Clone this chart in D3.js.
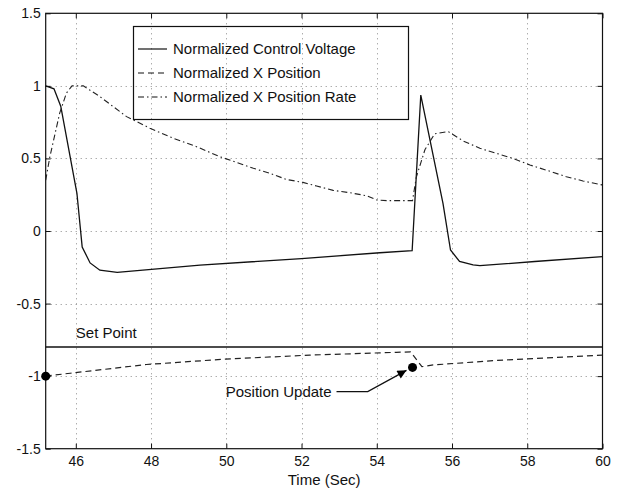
<!DOCTYPE html>
<html>
<head>
<meta charset="utf-8">
<script src="https://cdn.jsdelivr.net/npm/d3@7"></script>
<style>
  body { margin: 0; background: #fff; }
  text { font-family: "Liberation Sans", Arial, Helvetica, sans-serif; fill: #111; }
</style>
</head>
<body>
<script>
// values
var xTicks = [46, 48, 50, 52, 54, 56, 58, 60];
var yTicks = [-1.5, -1, -0.5, 0, 0.5, 1, 1.5];

var voltageTime = [45.2, 45.42, 45.6, 46.03, 46.17, 46.38, 46.64, 47.1, 49.3, 52.0, 54.08, 54.94,
                   55.17, 55.76, 55.96, 56.2, 56.56, 56.74, 58.2, 60];
var voltage     = [1.0, 0.98, 0.86, 0.26, -0.11, -0.22, -0.27, -0.285, -0.235, -0.19, -0.15, -0.136,
                   0.937, 0.19, -0.131, -0.21, -0.234, -0.239, -0.21, -0.177];

var rateTime = [45.2, 45.31, 45.57, 45.75, 45.9, 46.2, 46.64, 47.35, 47.97, 48.59, 49.21, 49.83,
                50.27, 50.72, 51.16, 51.6, 52.04, 52.4, 52.84, 53.28, 53.73, 54.0, 54.26, 54.95,
                55.05, 55.28, 55.54, 55.9, 56.3, 56.74, 57.18, 57.62, 58.07, 58.5, 59.04, 59.48, 60];
var rate     = [0.35, 0.51, 0.81, 0.95, 1.0, 1.0, 0.926, 0.788, 0.708, 0.639, 0.581, 0.512,
                0.473, 0.432, 0.398, 0.355, 0.335, 0.31, 0.28, 0.264, 0.243, 0.214, 0.209, 0.209,
                0.37, 0.56, 0.67, 0.685, 0.62, 0.57, 0.535, 0.5, 0.455, 0.42, 0.374, 0.345, 0.317];

var positionTime = [45.2, 45.85, 47.88, 49.9, 52.22, 54.52, 54.9, 55.2, 55.5, 57.1, 60];
var position     = [-1.0, -0.98, -0.92, -0.884, -0.855, -0.836, -0.833, -0.935, -0.923, -0.893, -0.855];

var setPoint = -0.8;
var updateTime  = [45.2, 54.95];
var updateValue = [-1.0, -0.94];

var legendLabels = ["Normalized Control Voltage", "Normalized X Position", "Normalized X Position Rate"];
var legendDashes = [null, "6,4", "6,3,1.5,3"];

var width = 617, height = 490;

var x = d3.scaleLinear().domain([45.2, 60]).range([45.7, 602.5]);
var y = d3.scaleLinear().domain([-1.5, 1.5]).range([448.7, 13.3]);

var svg = d3.select("body").append("svg")
    .attr("width", width)
    .attr("height", height);

// dotted grid
var grid = svg.append("g").attr("class", "grid")
    .attr("stroke", "#8a8a8a")
    .attr("stroke-width", 1)
    .attr("stroke-dasharray", "1,4");

grid.selectAll(".gx")
    .data(xTicks.filter(function(d) { return d > 45.2 && d < 60; }))
  .enter().append("line")
    .attr("x1", function(d) { return Math.round(x(d)) + 0.5; })
    .attr("x2", function(d) { return Math.round(x(d)) + 0.5; })
    .attr("y1", y(1.5))
    .attr("y2", y(-1.5));

grid.selectAll(".gy")
    .data(yTicks.filter(function(d) { return d > -1.5 && d < 1.5; }))
  .enter().append("line")
    .attr("y1", function(d) { return Math.round(y(d)) + 0.5; })
    .attr("y2", function(d) { return Math.round(y(d)) + 0.5; })
    .attr("x1", x(45.2))
    .attr("x2", x(60));

// axes, ticks pointing inwards
var fmt = function(d) { return String(d); };

svg.append("g")
    .attr("transform", "translate(0," + y(-1.5) + ")")
    .call(d3.axisBottom(x).tickValues(xTicks).tickSize(-5).tickPadding(7).tickFormat(fmt));

svg.append("g")
    .attr("transform", "translate(0," + y(1.5) + ")")
    .call(d3.axisTop(x).tickValues(xTicks).tickSize(-5).tickFormat(""));

svg.append("g")
    .attr("transform", "translate(" + x(45.2) + ",0)")
    .call(d3.axisLeft(y).tickValues(yTicks).tickSize(-5).tickPadding(5).tickFormat(fmt));

svg.append("g")
    .attr("transform", "translate(" + x(60) + ",0)")
    .call(d3.axisRight(y).tickValues(yTicks).tickSize(-5).tickFormat(""));

svg.selectAll(".domain").remove();
svg.selectAll(".tick line").attr("stroke", "#111");
svg.selectAll(".tick text")
    .style("font-size", "14px")
    .style("font-family", "'Liberation Sans', Arial, sans-serif");

// frame
svg.append("rect")
    .attr("x", x(45.2))
    .attr("y", y(1.5))
    .attr("width", x(60) - x(45.2))
    .attr("height", y(-1.5) - y(1.5))
    .attr("fill", "none")
    .attr("stroke", "#111")
    .attr("stroke-width", 1.2);

// series
var line = d3.line()
    .x(function(d) { return x(d[0]); })
    .y(function(d) { return y(d[1]); });

function pairs(t, v) {
    return t.map(function(d, i) { return [d, v[i]]; });
}

svg.append("path")
    .datum(pairs(voltageTime, voltage))
    .attr("d", line)
    .attr("fill", "none")
    .attr("stroke", "#111")
    .attr("stroke-width", 1.3);

svg.append("path")
    .datum(pairs(rateTime, rate))
    .attr("d", line)
    .attr("fill", "none")
    .attr("stroke", "#222")
    .attr("stroke-width", 1.1)
    .attr("stroke-dasharray", legendDashes[2]);

svg.append("path")
    .datum(pairs(positionTime, position))
    .attr("d", line)
    .attr("fill", "none")
    .attr("stroke", "#222")
    .attr("stroke-width", 1.2)
    .attr("stroke-dasharray", legendDashes[1]);

// set point
svg.append("line")
    .attr("x1", x(45.2))
    .attr("x2", x(60))
    .attr("y1", y(setPoint))
    .attr("y2", y(setPoint))
    .attr("stroke", "#111")
    .attr("stroke-width", 1.5);

svg.append("text")
    .attr("x", x(46))
    .attr("y", y(setPoint) - 9)
    .style("font-size", "15px")
    .text("Set Point");

// position update markers
svg.selectAll(".marker")
    .data(pairs(updateTime, updateValue))
  .enter().append("circle")
    .attr("cx", function(d) { return x(d[0]); })
    .attr("cy", function(d) { return y(d[1]); })
    .attr("r", 4.5)
    .attr("fill", "#000");

// annotation with arrow
svg.append("defs").append("marker")
    .attr("id", "head")
    .attr("viewBox", "0 0 10 10")
    .attr("refX", 10)
    .attr("refY", 5)
    .attr("markerWidth", 14)
    .attr("markerHeight", 9)
    .attr("markerUnits", "userSpaceOnUse")
    .attr("orient", "auto")
  .append("path")
    .attr("d", "M0,0 L10,5 L0,10 z")
    .attr("fill", "#000");

var tip = [updateTime[1] - 0.16, updateValue[1] - 0.02];
svg.append("path")
    .attr("d", "M" + x(52.93) + "," + y(-1.107) +
               " L" + x(53.76) + "," + y(-1.107) +
               " L" + x(tip[0]) + "," + y(tip[1]))
    .attr("fill", "none")
    .attr("stroke", "#111")
    .attr("stroke-width", 1.3)
    .attr("marker-end", "url(#head)");

svg.append("text")
    .attr("x", x(52.8))
    .attr("y", y(-1.107))
    .attr("dy", "0.35em")
    .attr("text-anchor", "end")
    .style("font-size", "15px")
    .text("Position Update");

// x label
svg.append("text")
    .attr("x", (x(45.2) + x(60)) / 2)
    .attr("y", 485)
    .attr("text-anchor", "middle")
    .style("font-size", "15px")
    .text("Time (Sec)");

// legend
var legend = svg.append("g").attr("class", "legend");

legend.append("rect")
    .attr("x", 133.5)
    .attr("y", 26.5)
    .attr("width", 275)
    .attr("height", 93)
    .attr("fill", "none")
    .attr("stroke", "#111")
    .attr("stroke-width", 1.2);

var rows = legend.selectAll(".row")
    .data(legendLabels)
  .enter().append("g")
    .attr("class", "row")
    .attr("transform", function(d, i) { return "translate(0," + (49 + i * 24) + ")"; });

rows.append("line")
    .attr("x1", 138)
    .attr("x2", 167)
    .attr("stroke", "#111")
    .attr("stroke-width", 1.2)
    .attr("stroke-dasharray", function(d, i) { return legendDashes[i]; });

rows.append("text")
    .attr("x", 173)
    .attr("dy", "0.35em")
    .style("font-size", "15px")
    .text(function(d) { return d; });
</script>
</body>
</html>
